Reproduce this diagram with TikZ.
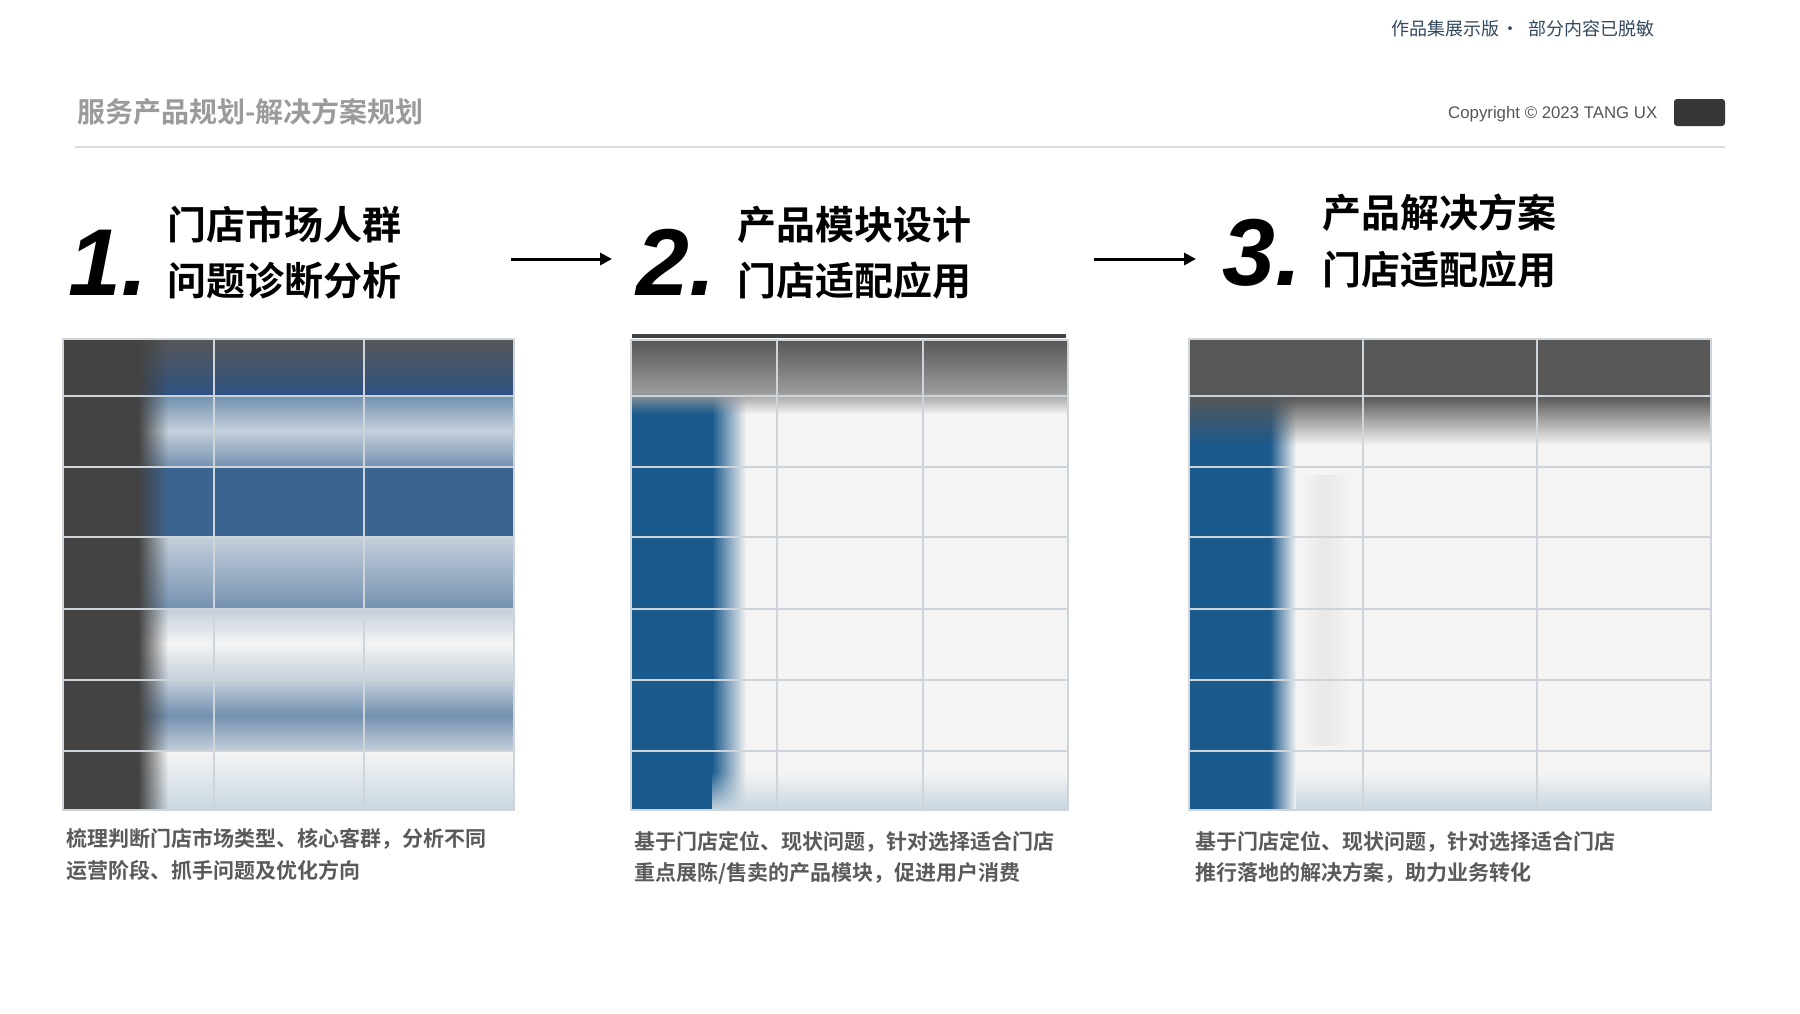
\documentclass[tikz,border=0pt]{standalone}
\usepackage{fontspec}
\setmainfont{Liberation Sans}
\newfontfamily\cjk{Noto Sans CJK SC}[BoldFont={Noto Sans CJK SC Bold}]
\usetikzlibrary{arrows.meta, fadings}
\definecolor{titlegray}{HTML}{9B9B9B}
\definecolor{notecol}{HTML}{34495E}
\definecolor{copygray}{HTML}{555555}
\definecolor{capgray}{HTML}{5A5A5A}
\definecolor{rulegray}{HTML}{DCDCDC}
\definecolor{gridgray}{HTML}{CDD4DA}
\definecolor{darkcol}{HTML}{434343}
\definecolor{headgray}{HTML}{575757}
\definecolor{cellw}{HTML}{F4F4F4}
\definecolor{bluehead}{HTML}{2D5283}
\definecolor{bluemid}{HTML}{3C6491}
\definecolor{bluesoft}{HTML}{7391B0}
\definecolor{bluepale}{HTML}{C4CFDB}
\definecolor{bluedeep}{HTML}{1B5A8D}
\definecolor{bottomcol}{HTML}{C8D6E0}
\tikzstyle{heading} = [font=\cjk\bfseries\fontsize{39}{39}\selectfont, text=black, inner sep=0pt, anchor=west, text height=34pt, text depth=5pt]
\tikzstyle{stepnum} = [font=\bfseries\itshape\fontsize{95}{95}\selectfont, text=black, inner sep=0pt, anchor=base west]
\tikzstyle{caption} = [font=\cjk\bfseries\fontsize{21}{21}\selectfont, text=capgray, inner sep=0pt, anchor=west, text height=18pt, text depth=3pt]
\tikzstyle{arrow} = [line width=3pt, -{Triangle[length=12pt,width=12pt]}]
\tikzstyle{grid} = [draw=gridgray, line width=2pt]
\begin{document}
\begin{tikzpicture}[x=1pt, y=-1pt]
		\fill[white] (0,0) rectangle (1800,1013);
		\useasboundingbox (0,0) rectangle (1800,1013);
		\node (note) [font=\cjk\fontsize{18}{18}\selectfont, text=notecol, inner sep=0pt, anchor=west] at (1391,29) {作品集展示版\kern0.1em·\kern0.55em部分内容已脱敏};
		\node (title) [font=\cjk\bfseries\fontsize{28}{28}\selectfont, text=titlegray, inner sep=0pt, anchor=west] at (77,112) {服务产品规划-解决方案规划};
		\node (copy) [font=\fontsize{16.8}{16.8}\selectfont, text=copygray, inner sep=0pt, anchor=west] at (1448,114) {Copyright © 2023 TANG UX};
		\node (badge) [rectangle, rounded corners=3pt, fill=darkcol!80!black, minimum width=51pt, minimum height=27pt, inner sep=0pt] at (1699.5,112.5) {};
		\draw[rulegray, line width=1.5pt] (75,147) -- (1725,147);
		\node (n1) [stepnum] at (68,295) {1.};
		\node (h1a) [heading] at (167,225) {门店市场人群};
		\node (h1b) [heading] at (167,281) {问题诊断分析};
		\node (n2) [stepnum] at (636,295) {2.};
		\node (h2a) [heading] at (737,225) {产品模块设计};
		\node (h2b) [heading] at (737,281) {门店适配应用};
		\node (n3) [stepnum] at (1222,285) {3.};
		\node (h3a) [heading] at (1322,213) {产品解决方案};
		\node (h3b) [heading] at (1322,270) {门店适配应用};
		\coordinate (a1s) at (511,259);
		\coordinate (a1e) at (612,259);
		\coordinate (a2s) at (1094,259);
		\coordinate (a2e) at (1196,259);
		\draw [arrow] (a1s) -- (a1e);
		\draw [arrow] (a2s) -- (a2e);
		% table 1
		\shade[top color=headgray, bottom color=bluehead] (63,339) rectangle (514,396);
		\shade[top color=bluesoft, bottom color=bluepale] (63,396) rectangle (514,431);
		\shade[top color=bluepale, bottom color=bluesoft] (63,431) rectangle (514,467);
		\fill[bluemid] (63,467) rectangle (514,537);
		\shade[top color=bluepale, bottom color=bluesoft] (63,537) rectangle (514,609);
		\shade[top color=bluepale, bottom color=cellw] (63,609) rectangle (514,644);
		\shade[top color=cellw, bottom color=bluepale] (63,644) rectangle (514,680);
		\shade[top color=bluepale, bottom color=bluesoft] (63,680) rectangle (514,715);
		\shade[top color=bluesoft, bottom color=bluepale] (63,715) rectangle (514,751);
		\shade[top color=cellw, bottom color=bottomcol] (63,751) rectangle (514,810);
		\fill[darkcol] (63,339) rectangle (138,810);
		\fill[darkcol, path fading=east] (138,339) rectangle (168,810);
		\draw[grid] (63,339) rectangle (514,810) (214,339) -- (214,810) (364,339) -- (364,810)
			(63,396) -- (514,396) (63,467) -- (514,467) (63,537) -- (514,537)
			(63,609) -- (514,609) (63,680) -- (514,680) (63,751) -- (514,751);
		% table 2
		\fill[cellw] (631,340) rectangle (1068,810);
		\fill[bluedeep] (631,390) rectangle (712,810);
		\fill[bluedeep, path fading=east] (712,390) rectangle (746,810);
		\shade[top color=headgray, bottom color=headgray!60] (631,340) rectangle (1068,392);
		\fill[headgray!60, path fading=south] (631,392) rectangle (1068,414);
		\fill[bottomcol, path fading=north] (712,772) rectangle (1068,810);
		\draw[darkcol, line width=4pt] (632,336) -- (1066,336);
		\draw[grid] (631,340) rectangle (1068,810) (777,340) -- (777,810) (923,340) -- (923,810)
			(631,396) -- (1068,396) (631,467) -- (1068,467) (631,537) -- (1068,537)
			(631,609) -- (1068,609) (631,680) -- (1068,680) (631,751) -- (1068,751);
		% table 3
		\fill[cellw] (1189,339) rectangle (1711,810);
		\fill[bluedeep] (1189,396) rectangle (1270,810);
		\fill[bluedeep, path fading=east] (1270,396) rectangle (1296,810);
		\fill[headgray] (1189,339) rectangle (1711,396);
		\fill[headgray, path fading=south] (1189,396) rectangle (1711,445);
		\shade[left color=cellw, right color=black!9] (1300,475) rectangle (1325,745);
		\shade[left color=black!9, right color=cellw] (1325,475) rectangle (1350,745);
		\fill[bottomcol, path fading=north] (1296,772) rectangle (1711,810);
		\draw[grid] (1189,339) rectangle (1711,810) (1363,339) -- (1363,810) (1537,339) -- (1537,810)
			(1189,396) -- (1711,396) (1189,467) -- (1711,467) (1189,537) -- (1711,537)
			(1189,609) -- (1711,609) (1189,680) -- (1711,680) (1189,751) -- (1711,751);
		\node (c1a) [caption] at (66,839) {梳理判断门店市场类型、核心客群，分析不同};
		\node (c1b) [caption] at (66,871) {运营阶段、抓手问题及优化方向};
		\node (c2a) [caption] at (634,842) {基于门店定位、现状问题，针对选择适合门店};
		\node (c2b) [caption] at (634,873) {重点展陈/售卖的产品模块，促进用户消费};
		\node (c3a) [caption] at (1195,842) {基于门店定位、现状问题，针对选择适合门店};
		\node (c3b) [caption] at (1195,873) {推行落地的解决方案，助力业务转化};
\end{tikzpicture}
\end{document}
